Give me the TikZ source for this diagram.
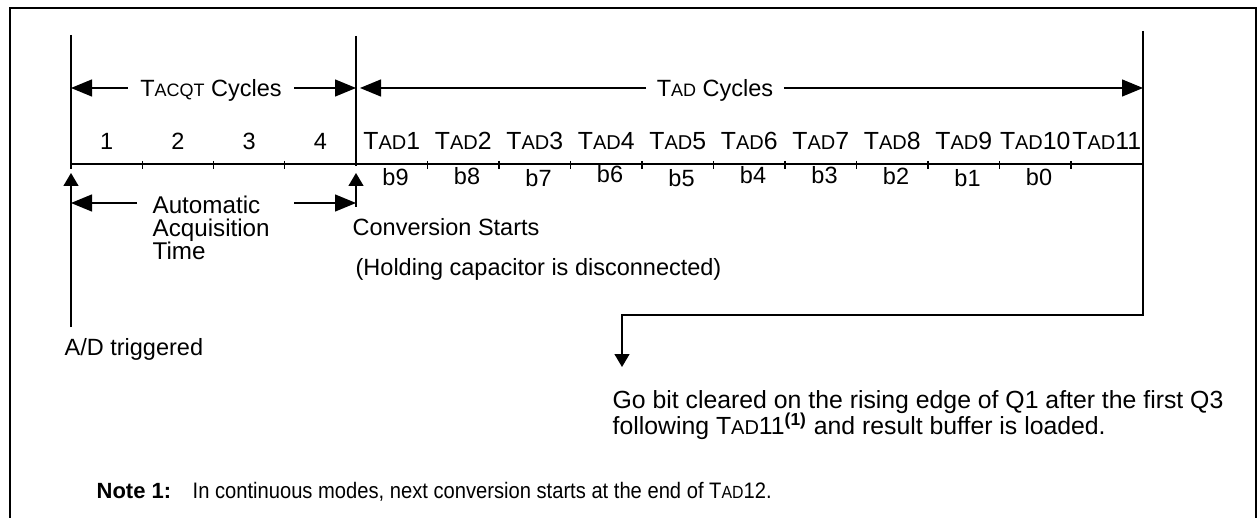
\documentclass[tikz,border=0pt]{standalone}
\usepackage{fontspec}
\setmainfont{Liberation Sans}
\newfontfamily\narrowfont[FakeStretch=0.9]{Liberation Sans}
\usetikzlibrary{arrows.meta}
\newcommand{\tsc}[1]{T{\fontsize{9}{9}\selectfont #1}}
\newcommand{\tscb}[1]{T{\fontsize{10}{10}\selectfont #1}}
\tikzset{
  lbl/.style={font=\fontsize{11.75}{14}\selectfont, inner sep=0pt},
  cyc/.style={lbl, text height=8.3pt, text depth=0pt},
  bigarr/.style={-{Triangle[length=10.5pt,width=8.5pt]}},
  smallarr/.style={-{Triangle[length=6.5pt,width=7.5pt]}}
}
\begin{document}
\begin{tikzpicture}[x=0.5pt,y=-0.5pt,line width=0.65pt]
\useasboundingbox (0,0) rectangle (1257,518);
\draw [line width=1pt] (10,518) -- (10,8) -- (1256,8) -- (1256,518);
% time axis
\coordinate (s) at (71,164);
\coordinate (c) at (356,164);
\coordinate (e) at (1143,164);
\draw (s) -- (e);
\draw (71,35) -- (71,169);
\draw (356,36) -- (356,166);
\foreach \i in {1,...,3} \draw ({71+71.25*\i},161) -- ++(0,8);
\foreach \i in {1,...,10} \draw ({356+71.5*\i},161) -- ++(0,8);
\foreach \i in {1,...,4} \node [lbl, anchor=base] (q\i) at ({35.4+71.25*\i},150) {\i};
\foreach \i in {1,...,11} \node [lbl, anchor=base, font=\fontsize{12.4}{14}\selectfont] (tad\i) at ({320.25+71.5*\i},150) {\tscb{AD}\i};
\foreach \b/\y [count=\i] in {9/186,8/185,7/187,6/183,5/187,4/184,3/184,2/185,1/187,0/186}
  \node [lbl, anchor=base] (b\b) at ({324+71.5*\i},\y) {b\b};
% cycle arrows
\node [cyc, inner xsep=6pt] (acqt) at (211,88) {\tsc{ACQT} Cycles};
\draw [bigarr] (acqt) -- (s |- acqt);
\draw [bigarr] (acqt) -- (c |- acqt);
\node [cyc, inner xsep=5pt] (tadc) at (715,88) {\tsc{AD} Cycles};
\draw [bigarr] (tadc) -- ([xshift=2pt]c |- tadc);
\draw [bigarr] (tadc) -- (e |- tadc);
% acquisition time
\node [lbl, anchor=north west, align=left, font=\fontsize{12.1}{11.5}\selectfont] (acqtime) at (152,195) {Automatic\\Acquisition\\Time};
\coordinate (acql) at (137,203);
\coordinate (acqr) at (294,203);
\draw [bigarr] (acql) -- (s |- acql);
\draw [bigarr] (acqr) -- (c |- acqr);
% events
\coordinate (trig) at (71,327);
\coordinate (conv) at (356,207);
\draw [smallarr] (trig) -- ([yshift=-4.5pt]s);
\draw [smallarr] (conv) -- ([yshift=-4.5pt]c);
\coordinate (rtop) at (1143,31);
\coordinate (godone) at (622,367);
\draw [smallarr] (rtop) -- (1143,315) -| (godone);
\node [lbl, anchor=base west] (convstart) at (352,235) {Conversion Starts};
\node [lbl, anchor=base west] (holding) at (355,275) {(Holding capacitor is disconnected)};
\node [lbl, anchor=base west] (trigd) at (64,355) {A/D triggered};
\node [lbl, anchor=base west, font=\fontsize{12.4}{14}\selectfont] (go1) at (612,408) {Go bit cleared on the rising edge of Q1 after the first Q3};
\node [lbl, anchor=base west, font=\fontsize{12.4}{14}\selectfont] (go2) at (612,434) {following \tscb{AD}11\textsuperscript{\textbf{(1)}} and result buffer is loaded.};
% note
\node [lbl, anchor=base west, font=\fontsize{11}{12}\selectfont\bfseries] (note) at (96,498) {Note 1:};
\node [lbl, anchor=base west, font=\fontsize{11.2}{12}\narrowfont] (notetxt) at (192,498) {In continuous modes, next conversion starts at the end of T{\fontsize{8.8}{9}\selectfont AD}12.};
\end{tikzpicture}
\end{document}
